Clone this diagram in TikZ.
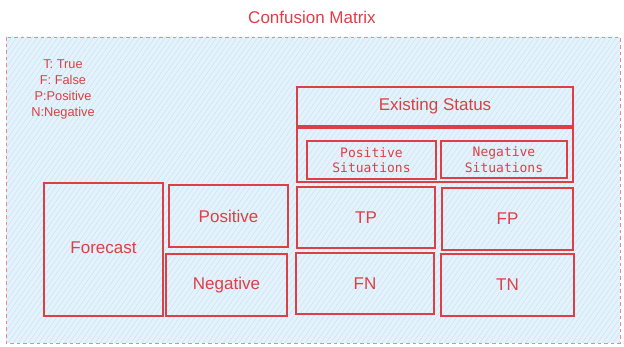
\documentclass[tikz,border=0pt]{standalone}
\usepackage{fontspec}
\setmainfont{Liberation Sans}
\setmonofont{DejaVu Sans Mono}
\usetikzlibrary{patterns.meta}
\definecolor{inkred}{HTML}{DE3F45}
\definecolor{dashred}{HTML}{EA8A90}
\definecolor{paleblue}{HTML}{E4F2FC}
\definecolor{hatchblue}{HTML}{C8E1F4}
\tikzset{
  hatched/.style={
    preaction={fill=paleblue},
    preaction={pattern={Lines[angle=55,distance=4.2pt,line width=0.45pt]},pattern color=hatchblue}},
  cell/.style={hatched, draw=inkred, line width=1.1pt, inner sep=0pt,
    text=inkred, font=\fontsize{17}{20}\selectfont, anchor=center},
  monocell/.style={cell, font=\ttfamily\fontsize{13}{15.5}\selectfont, align=center},
  frame/.style={hatched, draw=dashred, line width=0.9pt, dash pattern=on 3.6pt off 3pt},
  plain/.style={text=inkred, inner sep=0pt}
}
\begin{document}
\begin{tikzpicture}[x=1pt,y=-1pt]
  \useasboundingbox (0,0) rectangle (624,347);
  % dashed frame around the whole matrix
  \draw[frame] (6,37) rectangle (620,343);
  \node[plain, font=\fontsize{17}{20}\selectfont] (title) at (312,17) {Confusion Matrix};
  % legend of abbreviations
  \node[plain, align=center, font=\fontsize{12.8}{16}\selectfont] (legend) at (63,89.5)
    {T: True\\F: False\\P:Positive\\N:Negative};
  % column headers
  \node[cell, minimum width=276pt, minimum height=39pt] (status) at (435,106.5) {Existing Status};
  \node[cell, minimum width=276pt, minimum height=54pt] (group) at (435,155) {};
  \node[monocell, minimum width=129pt, minimum height=38pt] (possit) at (371.5,160) {Positive\\Situations};
  \node[monocell, minimum width=126pt, minimum height=37pt] (negsit) at (504,159.5) {Negative\\Situations};
  % row headers
  \node[cell, minimum width=119pt, minimum height=133pt] (forecast) at (103.5,249.5) {\raisebox{4pt}{Forecast}};
  \node[cell, minimum width=119pt, minimum height=62pt] (pos) at (228.5,216) {Positive};
  \node[cell, minimum width=121pt, minimum height=62pt] (neg) at (226.5,285) {Negative};
  % outcome cells
  \node[cell, minimum width=138pt, minimum height=61pt] (tp) at (366,217.5) {TP};
  \node[cell, minimum width=131pt, minimum height=62pt] (fp) at (507.5,219) {FP};
  \node[cell, minimum width=138pt, minimum height=61pt] (fn) at (365,283.5) {FN};
  \node[cell, minimum width=133pt, minimum height=62pt] (tn) at (507.5,285) {TN};
\end{tikzpicture}
\end{document}
